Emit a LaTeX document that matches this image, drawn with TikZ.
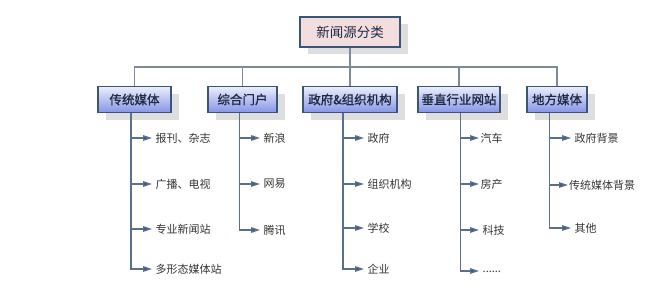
\documentclass[tikz,border=0pt]{standalone}
\usepackage{fontspec}
\setmainfont{Noto Sans CJK SC}[AutoFakeBold=1.2]
\usetikzlibrary{arrows.meta,shadows}
\definecolor{boxborder}{HTML}{3C5475}
\definecolor{boxtop}{HTML}{ECEEFC}
\definecolor{boxbot}{HTML}{8595E6}
\definecolor{rootfill}{HTML}{F2DEDE}
\definecolor{shadowc}{HTML}{DEDEDE}
\definecolor{busc}{HTML}{7D8A99}
\definecolor{tlinec}{HTML}{58708C}
\definecolor{arrowc}{HTML}{3A5275}
\definecolor{textc}{HTML}{333333}
\definecolor{titlec}{HTML}{1E2A44}
\tikzset{
  flatshadow/.style={drop shadow={shadow xshift=8pt,shadow yshift=-7pt,fill=shadowc,opacity=1}},
  rootbox/.style={draw=boxborder,line width=1.2pt,fill=rootfill,minimum width=100pt,minimum height=30pt,
    inner sep=0pt,font=\fontsize{13.5}{14}\selectfont,text=titlec,flatshadow},
  catbox/.style={draw=boxborder,line width=1.1pt,top color=boxtop,bottom color=boxbot,minimum height=26pt,
    inner sep=0pt,font=\fontsize{12.5}{13}\selectfont\bfseries,text=titlec,flatshadow},
  leaf/.style={anchor=west,inner xsep=3.5pt,inner ysep=0pt,font=\fontsize{11}{12}\selectfont,text=textc},
  busline/.style={draw=busc,line width=1.3pt},
  tline/.style={draw=tlinec,line width=1.3pt},
  arr/.style={tline,-{Triangle[length=9pt,width=5.5pt,fill=arrowc]}},
}
\begin{document}
\begin{tikzpicture}[x=1pt,y=-1pt]
\useasboundingbox (0,0) rectangle (662,303);
% root and categories
\node[rootbox] (root) at (350,32) {新闻源分类};
\node[catbox,minimum width=73pt] (b1) at (134.5,99.5) {传统媒体};
\node[catbox,minimum width=69pt] (b2) at (242.5,99.5) {综合门户};
\node[catbox,minimum width=94pt] (b3) at (350,99.5) {政府\&组织机构};
\node[catbox,minimum width=82pt] (b4) at (459,99.5) {垂直行业网站};
\node[catbox,minimum width=60pt] (b5) at (557,99.5) {地方媒体};
% bus
\coordinate (bus) at (0,67);
\draw[busline] (root.south) -- (root.south |- bus);
\draw[busline] (b1.north) -- (b1.north |- bus) -- (b5.north |- bus) -- (b5.north);
\draw[busline] (b2.north) -- (b2.north |- bus);
\draw[busline] (b3.north) -- (b3.north |- bus);
\draw[busline] (b4.north) -- (b4.north |- bus);
% trunks x
\coordinate (t1) at (131,0);
\coordinate (t2) at (239.5,0);
\coordinate (t3) at (343,0);
\coordinate (t4) at (460.5,0);
\coordinate (t5) at (549.5,0);
% column 1
\node[leaf] (c11) at (152,138) {报刊、杂志};
\node[leaf] (c12) at (152,184) {广播、电视};
\node[leaf] (c13) at (152,229) {专业新闻站};
\node[leaf] (c14) at (152,269) {多形态媒体站};
\draw[arr] (b1.south -| t1) |- (c14.west);
\draw[arr] (c11.west -| t1) -- (c11.west);
\draw[arr] (c12.west -| t1) -- (c12.west);
\draw[arr] (c13.west -| t1) -- (c13.west);
% column 2
\node[leaf] (c21) at (260,138) {新浪};
\node[leaf] (c22) at (260,184) {网易};
\node[leaf] (c23) at (260,230) {腾讯};
\draw[arr] (b2.south -| t2) |- (c23.west);
\draw[arr] (c21.west -| t2) -- (c21.west);
\draw[arr] (c22.west -| t2) -- (c22.west);
% column 3
\node[leaf] (c31) at (364,138) {政府};
\node[leaf] (c32) at (364,184) {组织机构};
\node[leaf] (c33) at (364,228) {学校};
\node[leaf] (c34) at (364,269) {企业};
\draw[arr] (b3.south -| t3) |- (c34.west);
\draw[arr] (c31.west -| t3) -- (c31.west);
\draw[arr] (c32.west -| t3) -- (c32.west);
\draw[arr] (c33.west -| t3) -- (c33.west);
% column 4
\node[leaf,inner xsep=1.5pt] (c41) at (479,138) {汽车};
\node[leaf,inner xsep=1.5pt] (c42) at (479,184) {房产};
\node[leaf] (c43) at (479,230) {科技};
\node[leaf] (c44) at (479,271) {\raisebox{-3pt}{......}};
\draw[arr] (b4.south -| t4) |- (c44.west);
\draw[arr] (c41.west -| t4) -- (c41.west);
\draw[arr] (c42.west -| t4) -- (c42.west);
\draw[arr] (c43.west -| t4) -- (c43.west);
% column 5
\node[leaf] (c51) at (571,138) {政府背景};
\node[leaf,inner xsep=1pt] (c52) at (568,185) {传统媒体背景};
\node[leaf] (c53) at (571,228) {其他};
\draw[arr] (b5.south -| t5) |- (c53.west);
\draw[arr] (c51.west -| t5) -- (c51.west);
\draw[arr] (c52.west -| t5) -- (c52.west);
\end{tikzpicture}
\end{document}
